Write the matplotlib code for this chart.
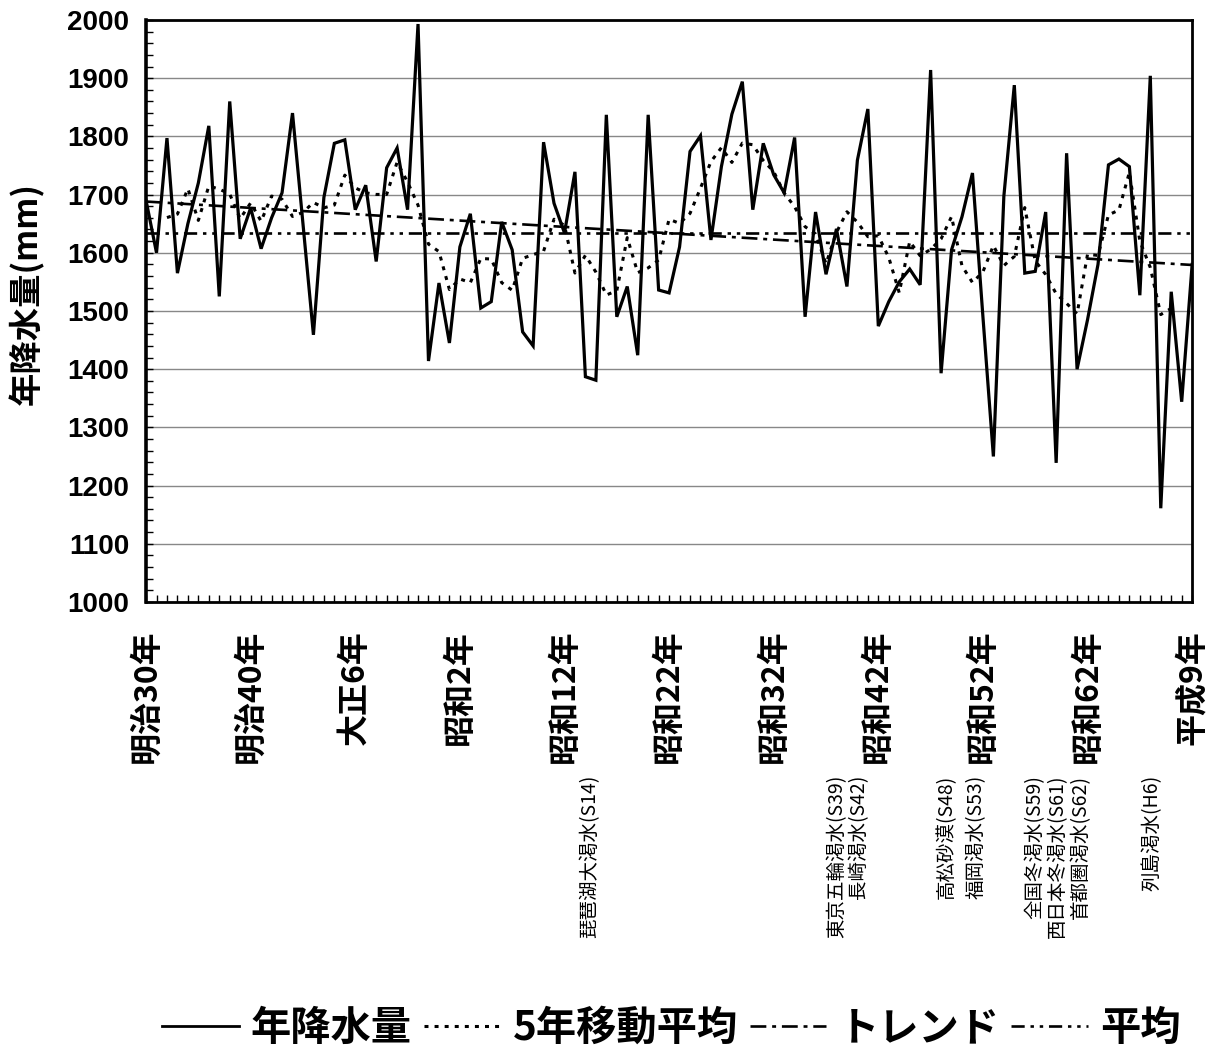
import numpy as np
import pandas as pd
import matplotlib
matplotlib.use("Agg")
import matplotlib.pyplot as plt
from matplotlib.lines import Line2D
from matplotlib.ticker import MultipleLocator
import matplotlib.transforms as mtransforms

plt.rcParams['font.family'] = ['Noto Sans CJK JP', 'DejaVu Sans']

# -------------------------
# data
# -------------------------
years = np.arange(1897, 1998)

# annual precipitation, mm (1897 .. 1997)
rain = [
    1690, 1600, 1797, 1565, 1650, 1720, 1818, 1525, 1860, 1624,   # 1897-1906
    1677, 1607, 1660, 1703, 1840, 1650, 1459, 1695, 1788, 1794,   # 1907-1916
    1674, 1716, 1585, 1746, 1780, 1674, 1993, 1414, 1548, 1445,   # 1917-1926
    1610, 1667, 1505, 1516, 1653, 1605, 1464, 1440, 1790, 1685,   # 1927-1936
    1634, 1739, 1387, 1381, 1837, 1490, 1542, 1424, 1837, 1536,   # 1937-1946
    1531, 1610, 1774, 1801, 1622, 1748, 1838, 1894, 1674, 1788,   # 1947-1956
    1734, 1703, 1798, 1490, 1670, 1563, 1641, 1542, 1759, 1847,   # 1957-1966
    1474, 1516, 1550, 1572, 1545, 1914, 1393, 1605, 1662, 1737,   # 1967-1976
    1490, 1250, 1697, 1888, 1565, 1568, 1670, 1239, 1771, 1400,   # 1977-1986
    1485, 1580, 1751, 1761, 1748, 1527, 1904, 1161, 1533, 1344,   # 1987-1996
    1580,                                                         # 1997
]

# trend line end values and long-term mean
trend_years = [1897, 1997]
trend_vals = [1688, 1579]
mean_val = 1634

tick_years = [1897, 1907, 1917, 1927, 1937, 1947, 1957, 1967, 1977, 1987, 1997]
tick_labels = ['明治30年', '明治40年', '大正6年', '昭和2年', '昭和12年', '昭和22年',
               '昭和32年', '昭和42年', '昭和52年', '昭和62年', '平成9年']

# drought events written under the axis
event_labels = ['琵琶湖大渇水(S14)', '東京五輪渇水(S39)', '長崎渇水(S42)', '高松砂漠(S48)',
                '福岡渇水(S53)', '全国冬渇水(S59)', '西日本冬渇水(S61)', '首都圏渇水(S62)',
                '列島渇水(H6)']
event_x = [1939.4, 1963.0, 1965.1, 1973.5, 1976.4, 1982.0, 1984.1, 1986.3, 1993.2]

# 5 year moving average (centred), as the legend says
ma5 = pd.Series(rain, index=years).rolling(5, center=True).mean()

# -------------------------
# figure
# -------------------------
fig = plt.figure(figsize=(12.14, 10.5), dpi=100)
ax = fig.add_axes([0.1203, 0.4267, 0.8617, 0.5543])

ax.set_xlim(1897, 1997)
ax.set_ylim(1000, 2000)
ax.yaxis.grid(True, color='#888888', lw=1.0)
ax.set_axisbelow(True)

DOT = (0, (1.3, 2.0))
DASHDOT = (0, (6, 2.2, 1.5, 2.2))
DASHDOTDOT = (0, (5, 2.2, 1.3, 2.2, 1.3, 2.2))

ax.plot(years, rain, color='black', lw=2.3, solid_joinstyle='miter')
ax.plot(ma5.index, ma5.values, color='black', lw=2.2, linestyle=DOT)
ax.plot(trend_years, trend_vals, color='black', lw=1.9, linestyle=DASHDOT)
ax.axhline(mean_val, color='black', lw=1.9, linestyle=DASHDOTDOT)

for s in ax.spines.values():
    s.set_linewidth(2.0)
    s.set_color('black')
ax.spines['left'].set_linewidth(2.6)

ax.set_xticks(tick_years)
ax.set_xticklabels(tick_labels, rotation=90, fontsize=23, fontweight='bold')
ax.xaxis.set_minor_locator(MultipleLocator(1))
ax.yaxis.set_major_locator(MultipleLocator(100))
ax.yaxis.set_minor_locator(MultipleLocator(20))
ax.tick_params(axis='x', which='both', direction='in', length=5, width=1, pad=20)
ax.tick_params(axis='y', which='both', direction='in', length=5, width=1, pad=12)
for lab in ax.get_yticklabels():
    lab.set_fontfamily('Liberation Sans')
    lab.set_fontweight('bold')
    lab.set_fontsize(20)

ax.set_ylabel('年降水量(mm)', fontsize=24, fontweight='bold')
ax.yaxis.set_label_coords(-0.097, 0.53)

trans = mtransforms.blended_transform_factory(ax.transData, ax.transAxes)
for lab, x in zip(event_labels, event_x):
    ax.text(x, -0.297, lab, transform=trans, rotation=90, fontsize=14,
            ha='center', va='top')

handles = [
    Line2D([], [], color='black', lw=2.0),
    Line2D([], [], color='black', lw=2.2, linestyle=DOT),
    Line2D([], [], color='black', lw=1.9, linestyle=DASHDOT),
    Line2D([], [], color='black', lw=1.9, linestyle=DASHDOTDOT),
]
leg = fig.legend(handles, ['年降水量', '5年移動平均', 'トレンド', '平均'],
                 loc='lower center', bbox_to_anchor=(0.553, -0.026), ncol=4,
                 frameon=False, handlelength=1.9, handletextpad=0.3, borderpad=0.2,
                 columnspacing=0.3, prop={'size': 29, 'weight': 'bold'})

fig.savefig('out.png', dpi=100)
